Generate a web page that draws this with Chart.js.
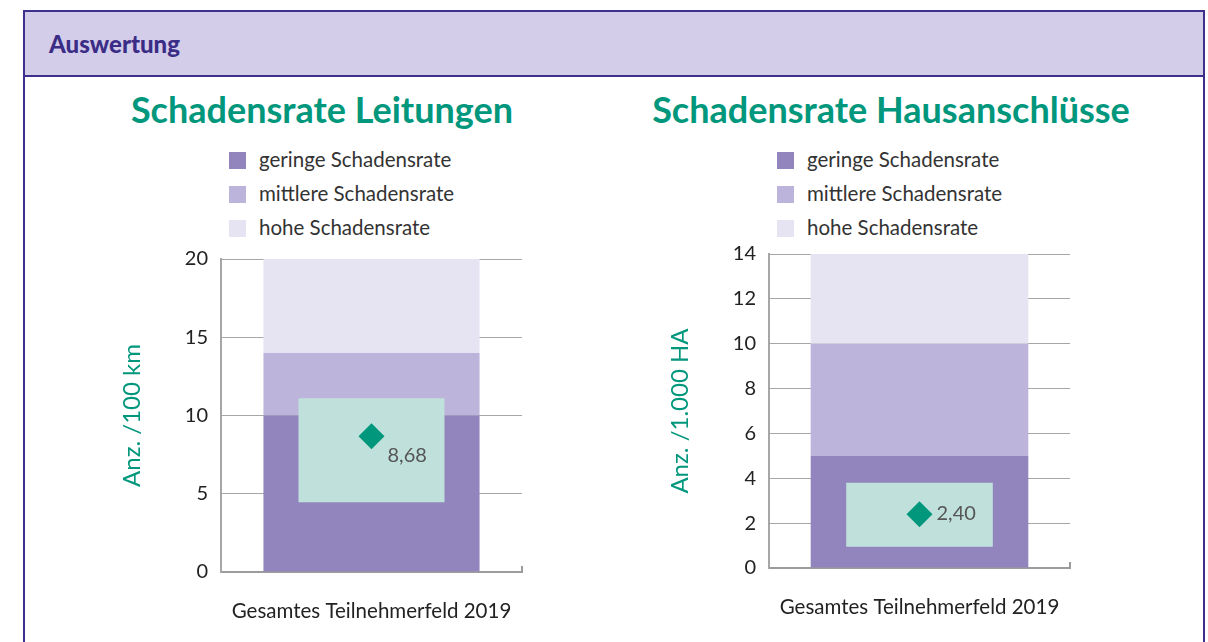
<!DOCTYPE html>
<html>
<head>
<meta charset="utf-8">
<script src="https://cdn.jsdelivr.net/npm/chart.js@4.4.0/dist/chart.umd.min.js"></script>
<style>
  body{margin:0;width:1208px;height:642px;overflow:hidden;background:#fff;font-family:Lato,"Open Sans",sans-serif;}
  #panel{position:absolute;left:23px;top:10px;width:1178px;height:700px;border:2px solid #3d2f8c;border-bottom:none;}
  #head{height:63px;background:#d3cdea;border-bottom:2px solid #3d2f8c;}
  #head span{position:absolute;left:24px;top:17px;font-weight:900;font-size:24px;color:#3b2d86;}
  .title{position:absolute;font-weight:bold;font-size:36px;color:#00977c;text-align:center;white-space:nowrap;}
  .legend{position:absolute;font-size:20.5px;color:#333;}
  .legend div{height:34px;line-height:34px;white-space:nowrap;}
  .legend i{display:inline-block;width:17px;height:17px;margin-right:13px;vertical-align:-2px;}
  canvas{position:absolute;}
</style>
</head>
<body>
<div id="panel"><div id="head"><span>Auswertung</span></div></div>
<div class="title" style="left:72px;width:500px;top:87px">Schadensrate Leitungen</div>
<div class="title" style="left:591px;width:600px;top:87px">Schadensrate Hausanschlüsse</div>
<div class="legend" id="leg1" style="left:229px;top:142px"></div>
<div class="legend" id="leg2" style="left:777px;top:142px"></div>
<div id="c1wrap" style="position:absolute;left:100px;top:234px;width:450px;height:386px"><canvas id="c1"></canvas></div>
<div id="c2wrap" style="position:absolute;left:648px;top:229px;width:450px;height:387px"><canvas id="c2"></canvas></div>
<script>
// Daten
const categories = ["Gesamtes Teilnehmerfeld 2019"];
const bandLabels = ["geringe Schadensrate", "mittlere Schadensrate", "hohe Schadensrate"];
const bandColors = ["#9285bd", "#bcb4da", "#e6e4f2"];

const leitGrenzen = [10, 14, 20];      // obere Grenze je Band
const leitSpanne = [4.45, 11.1];       // Bereich (Kasten)
const leitWert = [8.68];
const leitTicks = [0, 5, 10, 15, 20];

const hausGrenzen = [5, 10, 14];
const hausSpanne = [0.95, 3.8];
const hausWert = [2.40];
const hausTicks = [0, 2, 4, 6, 8, 10, 12, 14];

const teal = "#00977c";
const fmt = v => v.toFixed(2).replace(".", ",");

// Legenden
["leg1", "leg2"].forEach(id => {
  document.getElementById(id).innerHTML = bandLabels
    .map((l, i) => `<div><i style="background:${bandColors[i]}"></i>${l}</div>`).join("");
});

// Wertbeschriftung neben der Raute
const valueLabel = {
  id: "valueLabel",
  afterDatasetsDraw(chart, args, opts){
    const pt = chart.getDatasetMeta(0).data[0];
    const ctx = chart.ctx;
    ctx.save();
    ctx.font = "20px Lato";
    ctx.fillStyle = "#555";
    ctx.textAlign = "left";
    ctx.textBaseline = "middle";
    ctx.fillText(opts.text, pt.x + opts.dx, pt.y + opts.dy);
    ctx.restore();
  }
};

// kleiner Strich am rechten Ende der x-Achse
const axisEnd = {
  id: "axisEnd",
  afterDraw(chart){
    const {ctx, chartArea} = chart;
    ctx.save();
    ctx.strokeStyle = "#9c9c9c";
    ctx.lineWidth = 2;
    ctx.beginPath();
    ctx.moveTo(chartArea.right, chartArea.bottom);
    ctx.lineTo(chartArea.right, chartArea.bottom - 6);
    ctx.stroke();
    ctx.restore();
  }
};

function makeChart(id, grenzen, spanne, wert, ticks, yTitle, bandPct, boxPct, label){
  const bands = grenzen.map((g, i) => ({
    type: "bar",
    label: bandLabels[i],
    data: [[i ? grenzen[i-1] : 0, g]],
    backgroundColor: bandColors[i],
    grouped: false,
    categoryPercentage: 1,
    barPercentage: bandPct,
    order: 3
  }));
  return new Chart(document.getElementById(id), {
    type: "bar",
    data: {
      labels: categories,
      datasets: [
        {type: "line", label: "Wert", data: wert, showLine: false, pointStyle: "rectRot",
         pointRadius: 13, pointHoverRadius: 13, backgroundColor: teal, borderColor: teal, borderWidth: 0, order: 0},
        {type: "bar", label: "Bereich", data: [spanne], backgroundColor: "#c0e1db",
         grouped: false, categoryPercentage: 1, barPercentage: boxPct, order: 1},
        ...bands
      ]
    },
    options: {
      responsive: true,
      maintainAspectRatio: false,
      animation: false,
      layout: {padding: {top: 12, right: 28, left: 0, bottom: 0}},
      plugins: {
        legend: {display: false},
        tooltip: {enabled: false},
        valueLabel: label
      },
      scales: {
        x: {
          afterFit: s => { s.height = 48; },
          grid: {display: false},
          border: {display: true, color: "#9c9c9c", width: 2},
          ticks: {padding: 19, color: "#222", font: {family: "Lato", size: 20.5}}
        },
        y: {
          min: 0,
          max: ticks[ticks.length - 1],
          afterFit: s => { s.width = 121; },
          afterBuildTicks: s => { s.ticks = ticks.map(v => ({value: v})); },
          grid: {color: "#a6a6a6", lineWidth: 1, drawTicks: false},
          border: {display: true, color: "#a6a6a6", width: 2},
          ticks: {padding: 13, color: "#222", font: {family: "Lato", size: 20}},
          title: {display: true, text: yTitle, color: teal, font: {family: "Lato", size: 24},
                  padding: {top: 18, bottom: 0}}
        }
      }
    },
    plugins: [valueLabel, axisEnd]
  });
}

makeChart("c1", leitGrenzen, leitSpanne, leitWert, leitTicks, "Anz. /100 km", 0.718, 0.485,
  {text: fmt(leitWert[0]), dx: 16, dy: 19});
makeChart("c2", hausGrenzen, hausSpanne, hausWert, hausTicks, "Anz. /1.000 HA", 0.723, 0.487,
  {text: fmt(hausWert[0]), dx: 17, dy: -1});
</script>
</body>
</html>
